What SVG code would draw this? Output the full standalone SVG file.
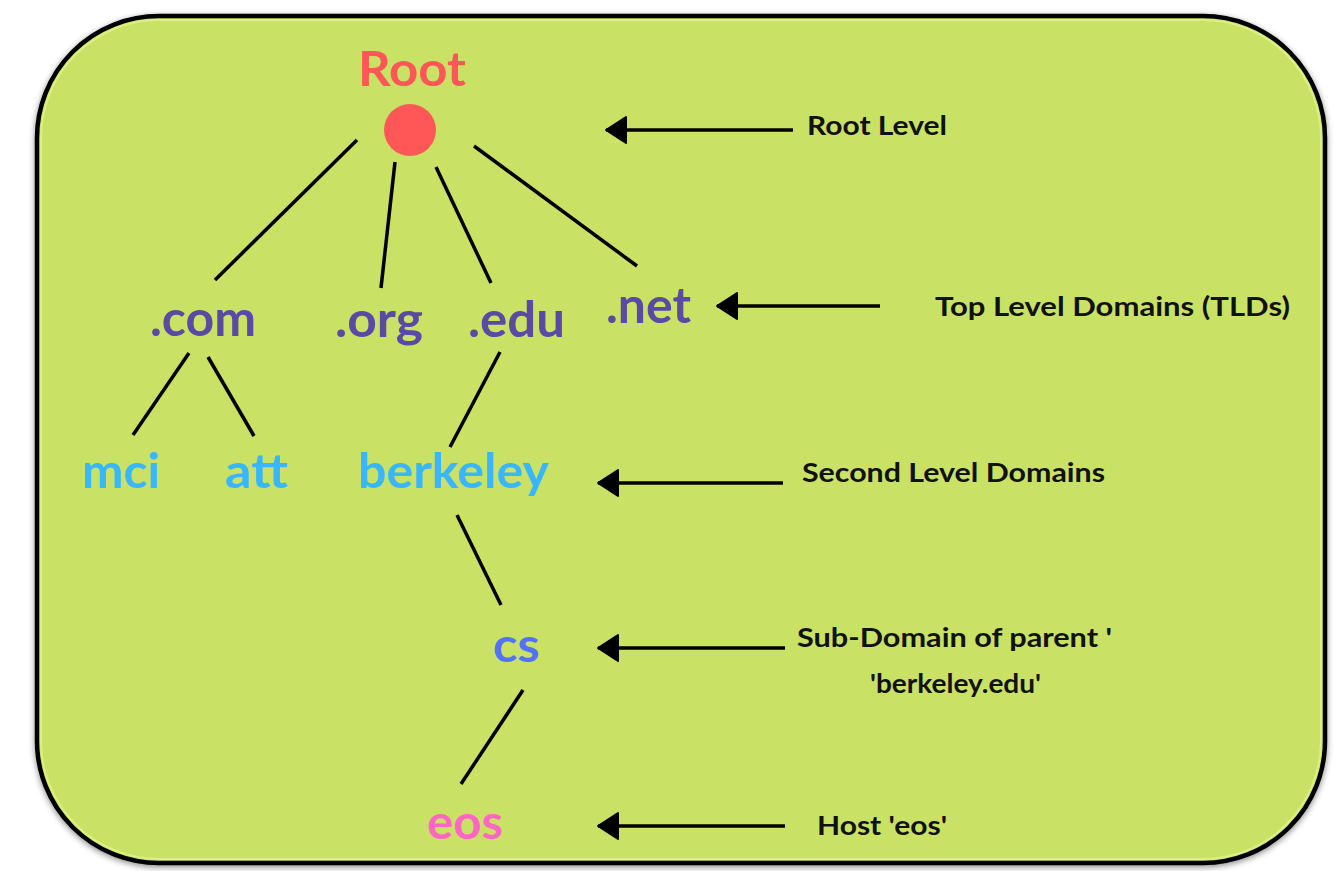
<svg xmlns="http://www.w3.org/2000/svg" width="1335" height="871" viewBox="0 0 1335 871">
<style>
.tree{font-family:Lato,"Open Sans",sans-serif;font-weight:700}
.lbl{font-family:Lato,"Open Sans",sans-serif;font-weight:700;font-size:27px;fill:#111}
.tld{fill:#5A4AA3;font-size:50px}
.sld{fill:#38B6FF;font-size:47px}
.edge{stroke:#000;stroke-width:3.5;stroke-linecap:butt;fill:none}
.arr{stroke:#000;stroke-width:3.5;fill:none;marker-end:url(#ah)}
</style>
<defs>
<filter id="sh" x="-5%" y="-5%" width="110%" height="110%">
<feDropShadow dx="0" dy="2" stdDeviation="3" flood-color="#000" flood-opacity="0.45"/>
</filter>
<marker id="ah" viewBox="0 0 24 30" refX="22" refY="15" markerWidth="24" markerHeight="30" markerUnits="userSpaceOnUse" orient="auto">
<path d="M2,2 L22,15 L2,28 Z" fill="#000" stroke="#000" stroke-width="2" stroke-linejoin="round"/>
</marker>
</defs>
<rect width="1335" height="871" fill="#fff"/>
<g id="frame">
<rect x="37" y="16" width="1288" height="847" rx="122" ry="122" fill="#C9E265" stroke="#000" stroke-width="4.5" filter="url(#sh)"/>
<rect x="41" y="20" width="1280" height="839" rx="118" ry="118" fill="none" stroke="#E4F58F" stroke-width="2" opacity="0.7"/>
</g>
<g id="connectors">
<line class="edge" x1="357" y1="140" x2="215" y2="280"/>
<line class="edge" x1="395" y1="162" x2="381" y2="288"/>
<line class="edge" x1="436" y1="167" x2="491" y2="283"/>
<line class="edge" x1="474" y1="146" x2="637" y2="266"/>
<line class="edge" x1="189" y1="353" x2="133" y2="435"/>
<line class="edge" x1="208" y1="357" x2="254" y2="436"/>
<line class="edge" x1="500" y1="352" x2="450" y2="447"/>
<line class="edge" x1="457" y1="515" x2="501" y2="605"/>
<line class="edge" x1="523" y1="690" x2="461" y2="784"/>
<line class="arr" x1="793" y1="130" x2="606" y2="130"/>
<line class="arr" x1="880" y1="306" x2="717" y2="306"/>
<line class="arr" x1="783" y1="483" x2="598" y2="483"/>
<line class="arr" x1="785" y1="648" x2="598" y2="648"/>
<line class="arr" x1="785" y1="826" x2="598" y2="826"/>
</g>
<g id="root">
<text class="tree" x="358" y="86" font-size="48" fill="#FF5757" textLength="108" lengthAdjust="spacingAndGlyphs">Root</text>
<circle cx="410" cy="130" r="26" fill="#FF5757"/>
</g>
<g id="com"><text class="tree tld" x="150" y="336" textLength="106" lengthAdjust="spacingAndGlyphs">.com</text></g>
<g id="org"><text class="tree tld" x="335" y="337" textLength="88" lengthAdjust="spacingAndGlyphs">.org</text></g>
<g id="edu"><text class="tree tld" x="468" y="337" textLength="97" lengthAdjust="spacingAndGlyphs">.edu</text></g>
<g id="net"><text class="tree tld" x="606" y="323" textLength="85" lengthAdjust="spacingAndGlyphs">.net</text></g>
<g id="mci"><text class="tree sld" x="82" y="488" textLength="78" lengthAdjust="spacingAndGlyphs">mci</text></g>
<g id="att"><text class="tree sld" x="225" y="488" textLength="63" lengthAdjust="spacingAndGlyphs">att</text></g>
<g id="berkeley"><text class="tree sld" x="358" y="488" textLength="191" lengthAdjust="spacingAndGlyphs">berkeley</text></g>
<g id="cs"><text class="tree" x="493" y="662" font-size="47" fill="#5271FF" textLength="47" lengthAdjust="spacingAndGlyphs">cs</text></g>
<g id="eos"><text class="tree" x="427" y="839" font-size="48" fill="#FF66C4" textLength="76" lengthAdjust="spacingAndGlyphs">eos</text></g>
<g id="labels">
<text class="lbl" x="807" y="135" textLength="140" lengthAdjust="spacingAndGlyphs">Root Level</text>
<text class="lbl" x="935" y="316" textLength="355" lengthAdjust="spacingAndGlyphs">Top Level Domains (TLDs)</text>
<text class="lbl" x="802" y="482" textLength="303" lengthAdjust="spacingAndGlyphs">Second Level Domains</text>
<text class="lbl" x="797" y="647" textLength="315" lengthAdjust="spacingAndGlyphs">Sub-Domain of parent '</text>
<text class="lbl" x="870" y="693" textLength="171" lengthAdjust="spacingAndGlyphs">'berkeley.edu'</text>
<text class="lbl" x="817" y="835" textLength="130" lengthAdjust="spacingAndGlyphs">Host 'eos'</text>
</g>
</svg>
